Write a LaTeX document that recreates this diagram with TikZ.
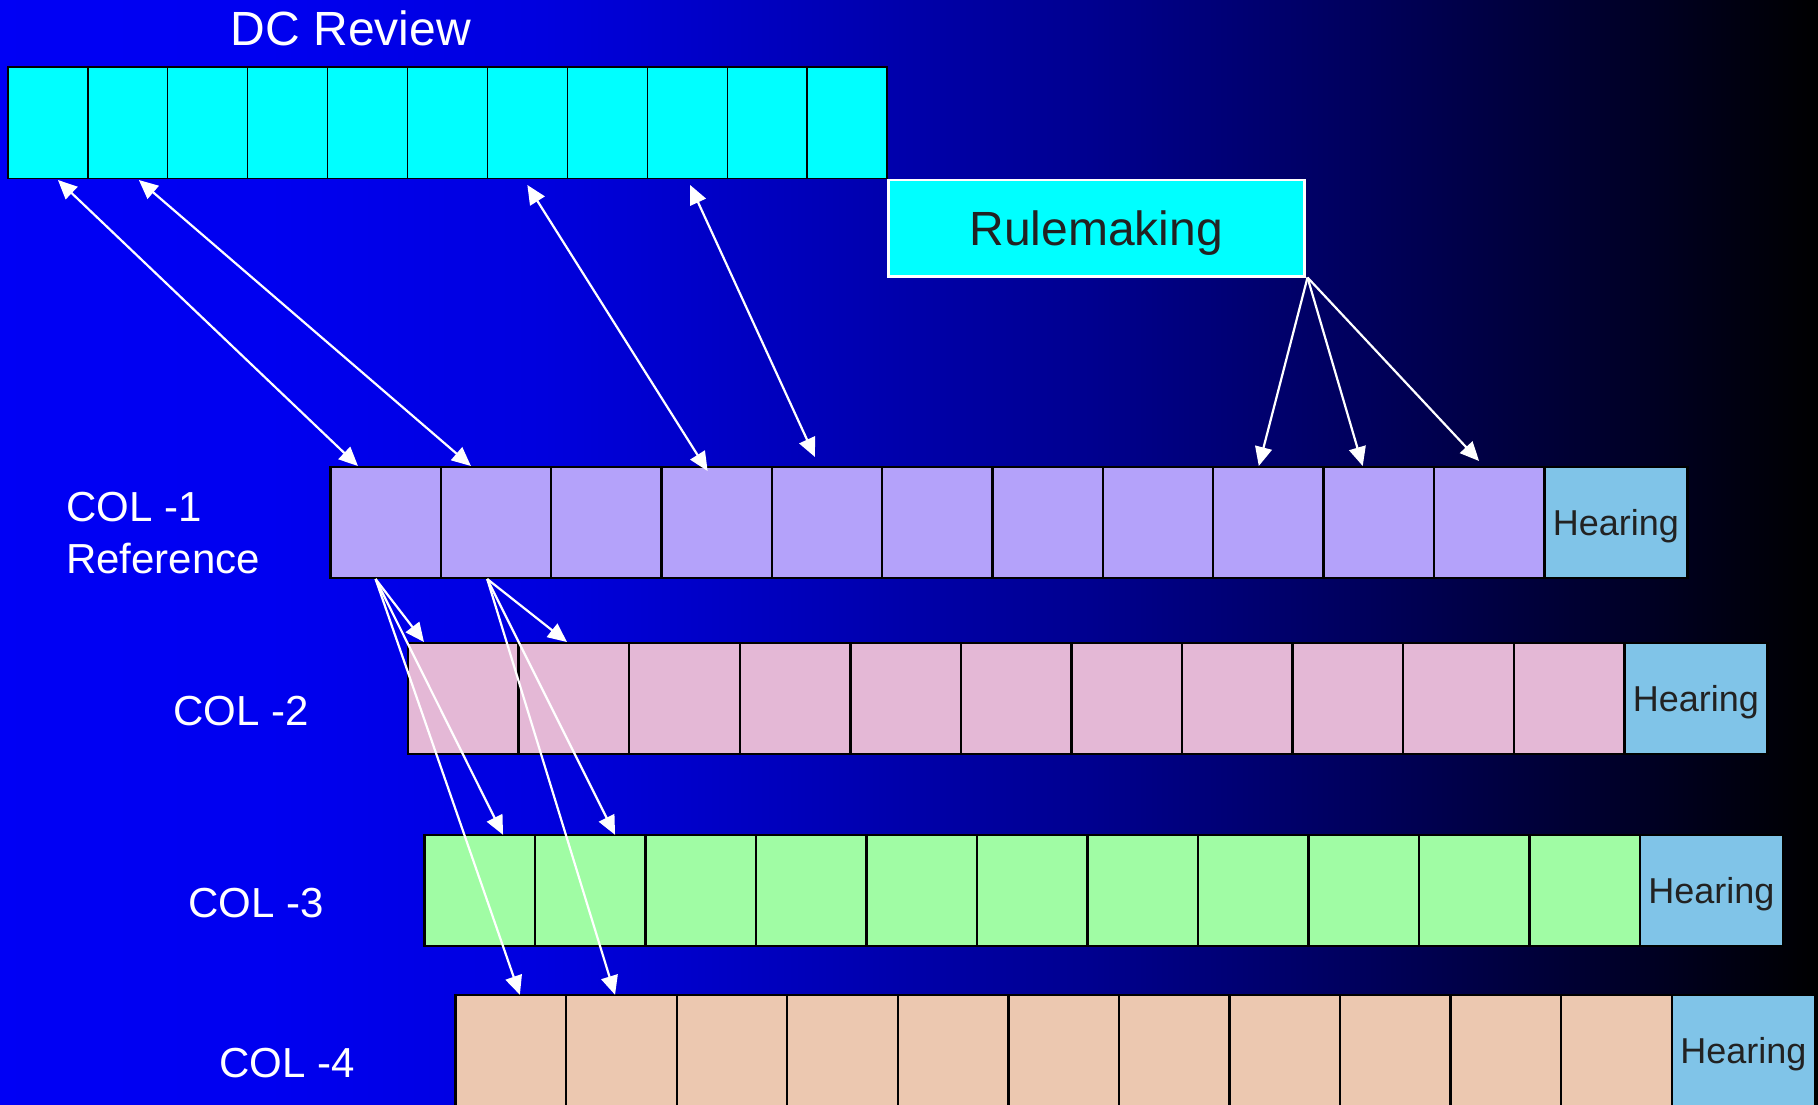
\documentclass[tikz,border=0pt]{standalone}
\usepackage{fontspec}
\setmainfont{Liberation Sans}
\usetikzlibrary{arrows.meta,calc}
\definecolor{dccyan}{RGB}{0,255,255}
\definecolor{colA}{RGB}{180,162,250}
\definecolor{colB}{RGB}{228,184,214}
\definecolor{colC}{RGB}{160,252,164}
\definecolor{colD}{RGB}{236,200,176}
\definecolor{hear}{RGB}{128,196,232}
\definecolor{txtdark}{RGB}{34,34,34}
\pgfdeclarehorizontalshading{bgshade}{100bp}{rgb(0bp)=(0,0,0.96); rgb(25bp)=(0,0,0.96); rgb(32.5bp)=(0,0,0.94); rgb(40bp)=(0,0,0.87); rgb(47.5bp)=(0,0,0.72); rgb(55bp)=(0,0,0.56); rgb(62.5bp)=(0,0,0.36); rgb(70bp)=(0,0,0.15); rgb(75bp)=(0,0,0); rgb(100bp)=(0,0,0)}
\tikzset{
  dccell/.style={draw=black, line width=1.2pt, fill=dccyan, anchor=north west, minimum width=79.9pt, minimum height=111.5pt, inner sep=0pt, outer sep=0pt},
  cell/.style={draw=black, line width=2.4pt, anchor=north west, minimum width=110.45pt, minimum height=111pt, inner sep=0pt, outer sep=0pt},
  hearbox/.style={cell, fill=hear, minimum width=143pt, text=txtdark, font=\fontsize{36pt}{43pt}\selectfont, text height=26pt, text depth=0pt},
  lbl/.style={text=white, anchor=base west, inner sep=0pt, font=\fontsize{42pt}{50pt}\selectfont},
  arr/.style={draw=white, line width=2.2pt, -{Triangle[length=19pt,width=17pt]}},
  darr/.style={draw=white, line width=2.2pt, {Triangle[length=19pt,width=17pt]}-{Triangle[length=19pt,width=17pt]}}
}
\begin{document}
\begin{tikzpicture}[x=1pt,y=-1pt]
\useasboundingbox (0,0) rectangle (1818,1104);
\shade[shading=bgshade] (0,0) rectangle (1818,1104);

% DC Review row
\node[text=white, anchor=base, inner sep=0pt, font=\fontsize{48pt}{58pt}\selectfont] (title) at (351,45) {DC Review};
\foreach \i in {1,...,11} \node[dccell] (d\i) at ({8+(\i-1)*79.9},67) {};

% Rulemaking
\node[draw=white, line width=2.5pt, fill=dccyan, anchor=north west, minimum width=416pt, minimum height=96.5pt, inner sep=0pt, text=txtdark, font=\fontsize{48pt}{58pt}\selectfont, text height=34.4pt, text depth=0pt] (rule) at (887,178.5) {Rulemaking};

% COL rows
\foreach \i in {1,...,11} \node[cell, fill=colA, minimum width=110.35pt] (a\i) at ({330.4+(\i-1)*110.35},467) {};
\node[hearbox] (ha) at (1544.3,467) {Hearing};
\foreach \i in {1,...,11} \node[cell, fill=colB, minimum width=110.56pt] (b\i) at ({408.1+(\i-1)*110.56},643) {};
\node[hearbox] (hb) at (1624.3,643) {Hearing};
\foreach \i in {1,...,11} \node[cell, fill=colC, minimum width=110.5pt] (c\i) at ({424.3+(\i-1)*110.5},834.8) {};
\node[hearbox] (hc) at (1639.8,834.8) {Hearing};
\foreach \i in {1,...,11} \node[cell, fill=colD, minimum width=110.56pt] (e\i) at ({455.6+(\i-1)*110.56},994.8) {};
\node[hearbox] (he) at (1671.8,994.8) {Hearing};

% labels
\node[lbl] (l1a) at (66,521) {COL -1};
\node[lbl] (l1b) at (66,573) {Reference};
\node[lbl] (l2) at (173,725.5) {COL -2};
\node[lbl] (l3) at (188,917) {COL -3};
\node[lbl] (l4) at (219,1077) {COL -4};

% DC <-> COL-1
\draw[darr] ($(d1.south)+(10,1.5)$) -- ($(a1.north)+(-27.6,-1)$);
\draw[darr] ($(d2.south)+(11,1.5)$) -- ($(a2.north)+(-25,-1)$);
\draw[darr] ($(d7.south)+(0,6.5)$) -- ($(a4.north)+(-9,4)$);
\draw[darr] ($(d9.south)+(3,6.5)$) -- ($(a5.north)+(-12,-10)$);

% Rulemaking -> COL-1
\draw[arr] ($(rule.south east)+(2,0)$) -- ($(a9.north)+(-9.6,-1)$);
\draw[arr] ($(rule.south east)+(2,0)$) -- ($(a10.north)+(-16,-1)$);
\draw[arr] ($(rule.south east)+(2,0)$) -- ($(a11.north)+(-10,-6)$);

% COL-1 -> lower rows
\draw[arr] ($(a1.south)+(-10,1)$) -- ($(b1.north)+(-39.4,-1)$);
\draw[arr] ($(a1.south)+(-10,1)$) -- ($(c1.north)+(23.5,0)$);
\draw[arr] ($(a1.south)+(-10,1)$) -- ($(e1.north)+(9,0)$);
\draw[arr] ($(a2.south)+(-8.7,1)$) -- ($(b2.north)+(-7,-1)$);
\draw[arr] ($(a2.south)+(-8.7,1)$) -- ($(c2.north)+(25,0)$);
\draw[arr] ($(a2.south)+(-8.7,1)$) -- ($(e2.north)+(-6.4,0)$);
\end{tikzpicture}
\end{document}
